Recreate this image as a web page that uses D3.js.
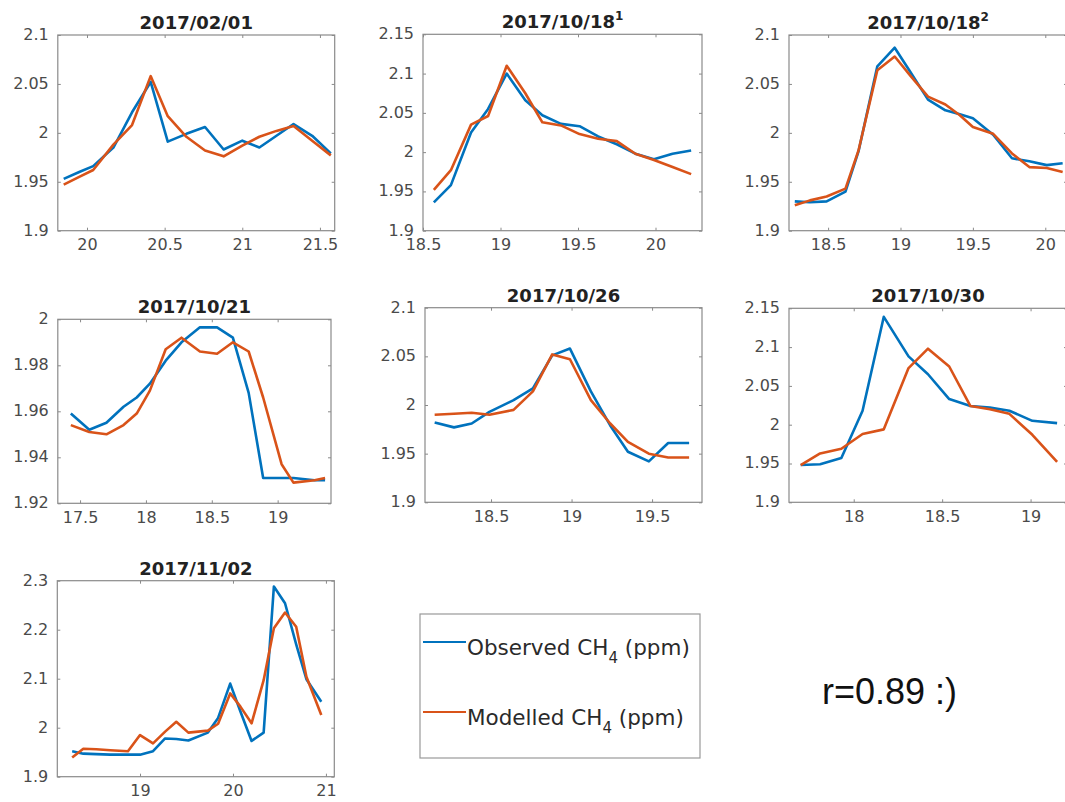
<!DOCTYPE html>
<html>
<head>
<meta charset="utf-8">
<script src="https://cdn.jsdelivr.net/npm/d3@7"></script>
<style>
  body { margin: 0; background: #fff; }
  text { font-family: "DejaVu Sans", sans-serif; }
</style>
</head>
<body>
<svg id="chart" width="1065" height="802"></svg>
<script>
// flight titles (second 10/18 flight marked with a superscript)
var titles = ["2017/02/01", "2017/10/18", "2017/10/18", "2017/10/21", "2017/10/26", "2017/10/30", "2017/11/02"];
var titleSup = ["", "1", "2", "", "", "", ""];

// time (h) / observed / modelled CH4 (ppm) for each flight
var time1 = [19.85, 19.95, 20.04, 20.17, 20.29, 20.41, 20.52, 20.64, 20.76, 20.88, 21.0, 21.11, 21.22, 21.33, 21.45, 21.57];
var obs1  = [1.953, 1.960, 1.966, 1.985, 2.021, 2.052, 1.991, 1.999, 2.006, 1.983, 1.992, 1.985, 1.997, 2.009, 1.997, 1.979];
var mod1  = [1.947, 1.955, 1.962, 1.988, 2.008, 2.058, 2.017, 1.996, 1.982, 1.976, 1.987, 1.996, 2.002, 2.007, 1.992, 1.977];

var time2 = [18.57, 18.68, 18.81, 18.92, 19.04, 19.16, 19.27, 19.39, 19.51, 19.63, 19.75, 19.87, 19.99, 20.11, 20.23];
var obs2  = [1.936, 1.958, 2.025, 2.055, 2.100, 2.066, 2.047, 2.036, 2.033, 2.020, 2.010, 1.998, 1.991, 1.998, 2.002];
var mod2  = [1.952, 1.977, 2.035, 2.046, 2.110, 2.075, 2.038, 2.034, 2.023, 2.017, 2.014, 1.998, 1.990, 1.981, 1.972];

var time3 = [18.27, 18.375, 18.49, 18.62, 18.71, 18.84, 18.96, 19.065, 19.19, 19.31, 19.41, 19.50, 19.64, 19.77, 19.89, 20.01, 20.12];
var obs3  = [1.930, 1.929, 1.930, 1.940, 1.981, 2.068, 2.087, 2.063, 2.034, 2.023, 2.019, 2.015, 1.998, 1.974, 1.971, 1.967, 1.969];
var mod3  = [1.926, 1.931, 1.935, 1.943, 1.982, 2.064, 2.078, 2.059, 2.037, 2.029, 2.018, 2.006, 1.999, 1.979, 1.965, 1.964, 1.960];

var time4 = [17.43, 17.57, 17.70, 17.83, 17.93, 18.03, 18.15, 18.27, 18.41, 18.54, 18.66, 18.78, 18.89, 19.03, 19.12, 19.28, 19.36];
var obs4  = [1.959, 1.952, 1.955, 1.962, 1.966, 1.972, 1.982, 1.990, 1.9965, 1.9965, 1.992, 1.968, 1.931, 1.931, 1.931, 1.930, 1.930];
var mod4  = [1.954, 1.951, 1.950, 1.954, 1.959, 1.969, 1.987, 1.992, 1.986, 1.985, 1.990, 1.986, 1.966, 1.937, 1.929, 1.930, 1.931];

var time5 = [18.15, 18.27, 18.38, 18.49, 18.64, 18.76, 18.88, 18.99, 19.12, 19.24, 19.35, 19.48, 19.60, 19.73];
var obs5  = [1.982, 1.977, 1.981, 1.993, 2.005, 2.017, 2.051, 2.058, 2.014, 1.979, 1.952, 1.942, 1.961, 1.961];
var mod5  = [1.990, 1.991, 1.992, 1.990, 1.995, 2.014, 2.052, 2.047, 2.005, 1.981, 1.962, 1.950, 1.946, 1.946];

var time6 = [17.70, 17.81, 17.93, 18.05, 18.17, 18.31, 18.42, 18.54, 18.66, 18.77, 18.88, 19.01, 19.15];
var obs6  = [1.948, 1.949, 1.957, 2.018, 2.139, 2.088, 2.065, 2.033, 2.024, 2.022, 2.018, 2.005, 2.002];
var mod6  = [1.948, 1.963, 1.969, 1.988, 1.994, 2.073, 2.098, 2.075, 2.024, 2.020, 2.014, 1.987, 1.952];

var time7 = [18.27, 18.39, 18.53, 18.68, 18.87, 19.0, 19.14, 19.27, 19.39, 19.52, 19.73, 19.84, 19.97, 20.08, 20.2, 20.33, 20.44, 20.56, 20.68, 20.79, 20.95];
var obs7  = [1.952, 1.947, 1.946, 1.945, 1.945, 1.945, 1.952, 1.978, 1.977, 1.974, 1.990, 2.020, 2.090, 2.033, 1.973, 1.990, 2.288, 2.254, 2.170, 2.099, 2.053];
var mod7  = [1.939, 1.957, 1.956, 1.954, 1.952, 1.985, 1.968, 1.992, 2.012, 1.990, 1.994, 2.008, 2.070, 2.043, 2.009, 2.097, 2.203, 2.235, 2.206, 2.104, 2.026];

// axis limits and ticks
var xDomains = [[19.812, 21.595], [18.5, 20.30], [18.23, 20.15], [17.331, 19.405], [18.09, 19.81], [17.634, 19.206], [18.11, 21.09]];
var yDomains = [[1.9, 2.1], [1.9, 2.15], [1.9, 2.1], [1.92, 2.0], [1.9, 2.1], [1.9, 2.15], [1.9, 2.3]];
var xTickVals = [[20, 20.5, 21, 21.5], [18.5, 19, 19.5, 20], [18.5, 19, 19.5, 20], [17.5, 18, 18.5, 19], [18.5, 19, 19.5], [18, 18.5, 19], [19, 20, 21]];
var yTickVals = [[1.9, 1.95, 2, 2.05, 2.1], [1.9, 1.95, 2, 2.05, 2.1, 2.15], [1.9, 1.95, 2, 2.05, 2.1], [1.92, 1.94, 1.96, 1.98, 2],
                 [1.9, 1.95, 2, 2.05, 2.1], [1.9, 1.95, 2, 2.05, 2.1, 2.15], [1.9, 2, 2.1, 2.2, 2.3]];

var seriesNames = ["Observed CH", "Modelled CH"];
var corrText = "r=0.89 :)";

var times = [time1, time2, time3, time4, time5, time6, time7];
var observed = [obs1, obs2, obs3, obs4, obs5, obs6, obs7];
var modelled = [mod1, mod2, mod3, mod4, mod5, mod6, mod7];

// layout: plot boxes [left, top, right, bottom]
var boxes = [[57.8, 35, 334.7, 230.7], [423, 34.3, 702, 230.7], [789, 35, 1067, 230.7],
             [57.8, 319.3, 331, 503.3], [425, 307.7, 702, 502.3], [789, 308.3, 1067, 502.3],
             [57.3, 580.7, 334.3, 776.7]];

var blue = "#0072BD", orange = "#D95319", axisCol = "#8a8a8a";
var fmt = function(d) { return String(+d.toFixed(3)); };

var svg = d3.select("#chart");

titles.forEach(function(title, i) {
  var b = boxes[i];
  var x = d3.scaleLinear().domain(xDomains[i]).range([b[0], b[2]]);
  var y = d3.scaleLinear().domain(yDomains[i]).range([b[3], b[1]]);
  var g = svg.append("g");

  // ticks inside on all four sides
  var bottom = g.append("g").attr("transform", "translate(0," + b[3] + ")")
    .call(d3.axisBottom(x).tickValues(xTickVals[i]).tickSize(-3).tickPadding(8).tickFormat(fmt));
  var left = g.append("g").attr("transform", "translate(" + b[0] + ",0)")
    .call(d3.axisLeft(y).tickValues(yTickVals[i]).tickSize(-3).tickPadding(9).tickFormat(fmt));
  var top = g.append("g").attr("transform", "translate(0," + b[1] + ")")
    .call(d3.axisTop(x).tickValues(xTickVals[i]).tickSize(-3).tickFormat(""));
  var right = g.append("g").attr("transform", "translate(" + b[2] + ",0)")
    .call(d3.axisRight(y).tickValues(yTickVals[i]).tickSize(-3).tickFormat(""));
  [bottom, left, top, right].forEach(function(a) {
    a.select(".domain").remove();
    a.selectAll("line").attr("stroke", axisCol);
    a.selectAll("text").attr("fill", "#4a4a4a").style("font-size", "16px")
      .style("font-family", "'DejaVu Sans', sans-serif");
  });
  // keep the lowest y label clear of the first x label
  left.selectAll("text").attr("dy", "0.28em");

  g.append("rect")
    .attr("x", b[0]).attr("y", b[1])
    .attr("width", b[2] - b[0]).attr("height", b[3] - b[1])
    .attr("fill", "none").attr("stroke", axisCol).attr("stroke-width", 1.2);

  var t = times[i];
  var line = d3.line().x(function(d, k) { return x(t[k]); }).y(function(d) { return y(d); });
  g.append("path").datum(observed[i]).attr("d", line)
    .attr("fill", "none").attr("stroke", blue).attr("stroke-width", 2.6).attr("stroke-linejoin", "round");
  g.append("path").datum(modelled[i]).attr("d", line)
    .attr("fill", "none").attr("stroke", orange).attr("stroke-width", 2.6).attr("stroke-linejoin", "round");

  var tt = g.append("text")
    .attr("x", (b[0] + b[2]) / 2).attr("y", b[1] - 6)
    .attr("text-anchor", "middle")
    .style("font-size", "18px").style("font-weight", "bold").attr("fill", "#222")
    .text(title);
  if (titleSup[i]) {
    tt.append("tspan").attr("dy", -8).style("font-size", "12px").text(titleSup[i]);
  }
});

// legend
var lg = svg.append("g");
lg.append("rect").attr("x", 420).attr("y", 614).attr("width", 280).attr("height", 144)
  .attr("fill", "#fff").attr("stroke", "#999").attr("stroke-width", 1.2);
[blue, orange].forEach(function(c, i) {
  var ly = 642 + i * 70;
  lg.append("line").attr("x1", 423).attr("x2", 466).attr("y1", ly).attr("y2", ly)
    .attr("stroke", c).attr("stroke-width", 2.2);
  var tx = lg.append("text").attr("x", 467).attr("y", ly + 13)
    .style("font-size", "21.5px").attr("fill", "#2a2a2a").text(seriesNames[i]);
  tx.append("tspan").attr("dy", 8).style("font-size", "15px").text("4");
  tx.append("tspan").attr("dy", -8).text(" (ppm)");
});

svg.append("text").attr("x", 822).attr("y", 704)
  .style("font-family", "'Liberation Sans', Arial, sans-serif").style("font-size", "36px")
  .attr("fill", "#111").text(corrText);
</script>
</body>
</html>
